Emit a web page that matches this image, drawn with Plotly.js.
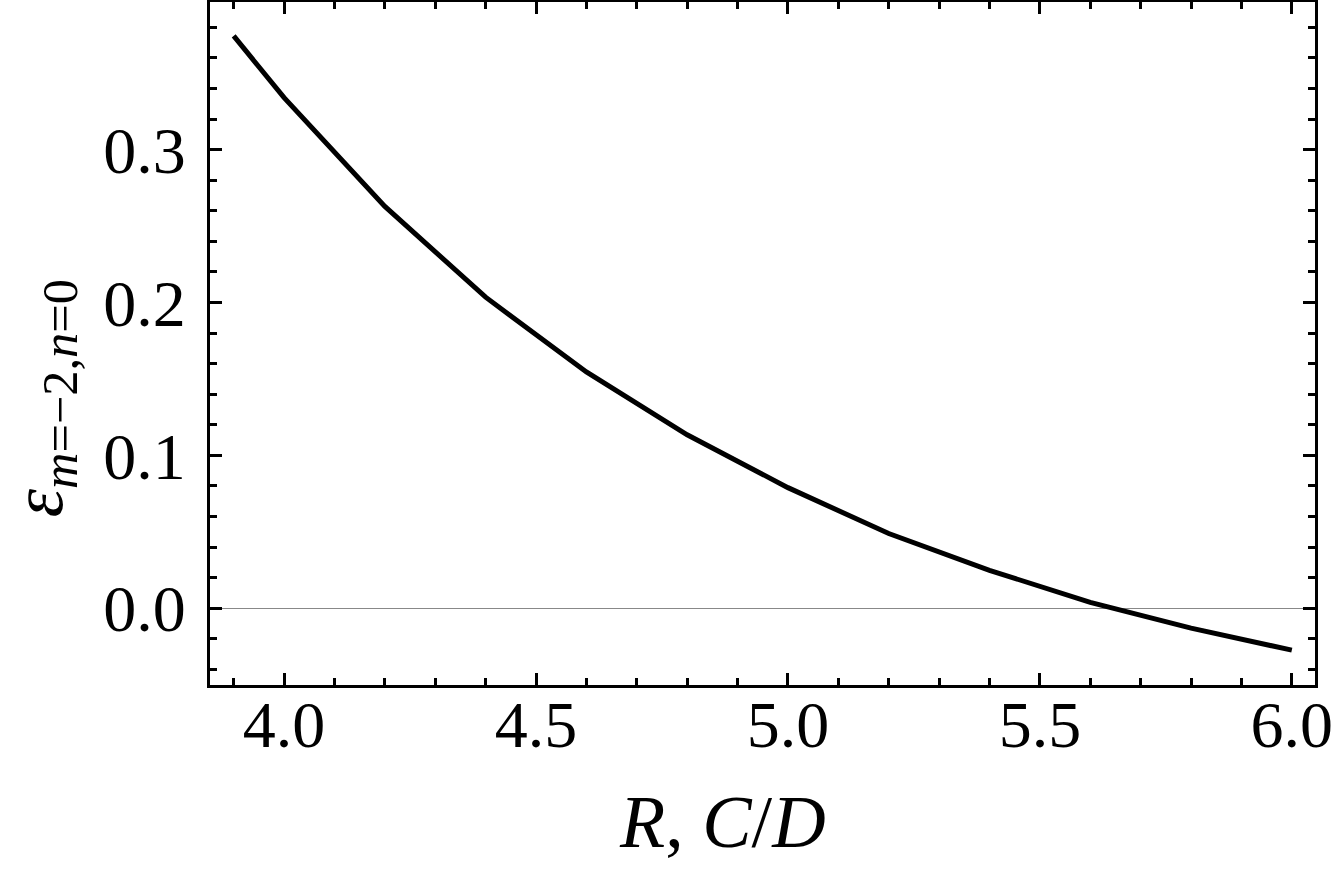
<!DOCTYPE html>
<html>
<head>
<meta charset="utf-8">
<script src="https://cdn.plot.ly/plotly-3.0.1.min.js"></script>
<style>html,body{margin:0;padding:0;background:#fff;}#chart{width:1342px;height:884px;}</style>
</head>
<body>
<div id="chart"></div>
<script>
const rValues = [3.9, 4.0, 4.2, 4.4, 4.6, 4.8, 5.0, 5.2, 5.4, 5.6, 5.8, 6.0];
const epsValues = [0.3744, 0.334, 0.2629, 0.2035, 0.1546, 0.1135, 0.0789, 0.0489, 0.0248, 0.0039, -0.013, -0.0274];
const xTickVals = [4.0, 4.5, 5.0, 5.5, 6.0];
const xTickText = ['4.0', '4.5', '5.0', '5.5', '6.0'];
const yTickVals = [0.0, 0.1, 0.2, 0.3];
const yTickText = ['0.0', '0.1', '0.2', '0.3'];
const xTitle = '<i>R</i>, <i>C</i>/<i>D</i>';
const yTitle = '<i>ε</i><sub><i>m</i>=−2,<i>n</i>=0</sub>';

const trace = {
  x: rValues, y: epsValues, type: 'scatter', mode: 'lines',
  line: {color: '#000', width: 5}, hoverinfo: 'skip', showlegend: false
};
const serif = '"Liberation Serif", "Times New Roman", serif';
const layout = {
  width: 1342, height: 884,
  margin: {l: 210, r: 27, t: 2, b: 199},
  paper_bgcolor: '#fff', plot_bgcolor: '#fff',
  font: {family: serif, color: '#000'},
  xaxis: {
    range: [3.853, 6.046], showgrid: false, zeroline: false,
    showline: true, linecolor: '#000', linewidth: 3, mirror: 'allticks',
    ticks: 'inside', ticklen: 12, tickwidth: 3, tickcolor: '#000',
    tickvals: xTickVals, ticktext: xTickText, ticklabelstandoff: -20,
    tickfont: {family: serif, size: 66, color: '#000'},
    minor: {dtick: 0.1, tick0: 0, ticks: 'inside', ticklen: 7, tickwidth: 3, tickcolor: '#000', showgrid: false}
  },
  yaxis: {
    range: [-0.0502, 0.3966], showgrid: false,
    zeroline: true, zerolinecolor: '#888', zerolinewidth: 1,
    showline: true, linecolor: '#000', linewidth: 3, mirror: 'allticks',
    ticks: 'inside', ticklen: 12, tickwidth: 3, tickcolor: '#000',
    tickvals: yTickVals, ticktext: yTickText, ticklabelstandoff: 8,
    tickfont: {family: serif, size: 66, color: '#000'},
    minor: {dtick: 0.02, tick0: 0, ticks: 'inside', ticklen: 7, tickwidth: 3, tickcolor: '#000', showgrid: false}
  },
  annotations: [
    {text: xTitle, xref: 'paper', yref: 'paper', x: 0.464, y: -0.2, xanchor: 'center', yanchor: 'middle',
     showarrow: false, font: {family: serif, size: 74, color: '#000'}},
    {text: yTitle, xref: 'paper', yref: 'paper', x: -0.151, y: 0.42, xanchor: 'center', yanchor: 'middle',
     textangle: -90, showarrow: false, font: {family: serif, size: 72, color: '#000'}}
  ]
};
Plotly.newPlot('chart', [trace], layout, {displayModeBar: false, staticPlot: true});
</script>
</body>
</html>
